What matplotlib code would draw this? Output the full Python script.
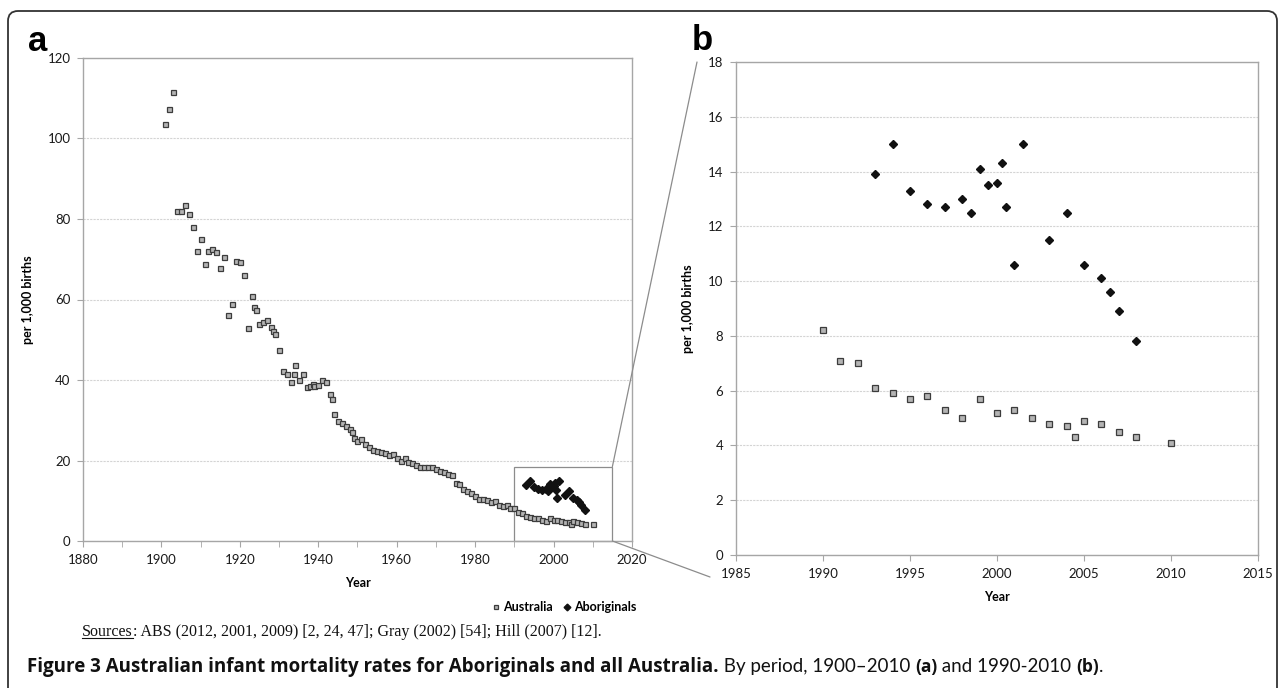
import numpy as np
import matplotlib.pyplot as plt
from matplotlib.patches import Rectangle, FancyBboxPatch, ConnectionPatch
from matplotlib.transforms import IdentityTransform

# Australia, all births (panel a, 1901-1989)
aus_years_early = [1901, 1902, 1903, 1904, 1905, 1906, 1907, 1908, 1909, 1910,
                   1911, 1912, 1913, 1914, 1915, 1916, 1917, 1918, 1919, 1920,
                   1921, 1922, 1923, 1923.5, 1924, 1925, 1926, 1927, 1928, 1928.5,
                   1929, 1930, 1931, 1932, 1933, 1933.7, 1934, 1935, 1936, 1937,
                   1938, 1938.6, 1939, 1940, 1941, 1942, 1943, 1943.5, 1944, 1945,
                   1946, 1947, 1948, 1948.6, 1949, 1950, 1951, 1952, 1953, 1954,
                   1955, 1956, 1957, 1958, 1959, 1960, 1961, 1962, 1963, 1964,
                   1965, 1966, 1967, 1968, 1969, 1970, 1971, 1972, 1973, 1974,
                   1975, 1976, 1977, 1978, 1979, 1980, 1981, 1982, 1983, 1984,
                   1985, 1986, 1987, 1988, 1989]
aus_vals_early = [103.5, 107.3, 111.5, 82.0, 82.0, 83.5, 81.3, 78.0, 72.0, 75.0,
                  68.8, 72.0, 72.5, 71.8, 67.8, 70.5, 56.2, 59.0, 69.5, 69.3,
                  66.0, 53.0, 60.8, 58.2, 57.3, 53.8, 54.3, 54.8, 53.2, 52.2,
                  51.4, 47.5, 42.3, 41.5, 39.5, 41.5, 43.8, 40.0, 41.4, 38.2,
                  38.6, 39.0, 38.6, 38.7, 40.0, 39.5, 36.5, 35.2, 31.5, 29.7,
                  29.2, 28.5, 27.9, 27.1, 25.5, 24.8, 25.4, 24.0, 23.4, 22.7,
                  22.3, 22.1, 21.8, 21.4, 21.7, 20.5, 19.9, 20.7, 19.7, 19.3,
                  18.9, 18.5, 18.5, 18.3, 18.3, 18.0, 17.5, 17.1, 16.7, 16.4,
                  14.4, 14.2, 12.9, 12.5, 11.9, 11.1, 10.4, 10.5, 10.2, 9.7,
                  10.0, 9.0, 8.8, 8.9, 8.2]

# Australia 1990-2010 (panel b)
aus_years = [1990, 1991, 1992, 1993, 1994, 1995, 1996, 1997, 1998, 1999, 2000,
             2001, 2002, 2003, 2004, 2004.5, 2005, 2006, 2007, 2008, 2010]
aus_vals = [8.2, 7.1, 7.0, 6.1, 5.9, 5.7, 5.8, 5.3, 5.0, 5.7, 5.2,
            5.3, 5.0, 4.8, 4.7, 4.3, 4.9, 4.8, 4.5, 4.3, 4.1]

# Aboriginals
abo_years = [1993, 1994, 1995, 1996, 1997, 1998, 1998.5, 1999, 1999.5, 2000,
             2000.3, 2000.5, 2001, 2001.5, 2003, 2004, 2005, 2006, 2006.5, 2007, 2008]
abo_vals = [13.9, 15.0, 13.3, 12.8, 12.7, 13.0, 12.5, 14.1, 13.5, 13.6,
            14.3, 12.7, 10.6, 15.0, 11.5, 12.5, 10.6, 10.1, 9.6, 8.9, 7.8]

W, H = 1285, 688
plt.rcParams['font.family'] = ['Lato', 'DejaVu Sans']

fig = plt.figure(figsize=(W / 100, H / 100), dpi=100)

def box(l, t, r, b):
    return [l / W, 1 - b / H, (r - l) / W, (b - t) / H]

ax_a = fig.add_axes(box(83, 58, 632, 541))
ax_b = fig.add_axes(box(736, 62, 1258, 555))

spine_c = '#a6a6a6'
sq = dict(ls='none', marker='s', mfc='#b4b4b4', mec='#3c3c3c', mew=0.9)
di = dict(ls='none', marker='D', color='#111111', mec='#111111')

all_years = aus_years_early + aus_years
all_vals = aus_vals_early + aus_vals

ax_a.plot(all_years, all_vals, ms=3.6, label='Australia', **sq)
ax_a.plot(abo_years, abo_vals, ms=3.8, label='Aboriginals', **di)
ax_b.plot(aus_years, aus_vals, ms=4.0, **sq)
ax_b.plot(abo_years, abo_vals, ms=4.3, **di)

ax_a.set_xlim(1880, 2020)
ax_a.set_ylim(0, 120)
ax_a.set_xticks(np.arange(1880, 2021, 20))
ax_a.set_xticks(np.arange(1890, 2020, 20), minor=True)
ax_a.set_yticks(np.arange(0, 121, 20))

ax_b.set_xlim(1985, 2015)
ax_b.set_ylim(0, 18)
ax_b.set_xticks(np.arange(1985, 2016, 5))
ax_b.set_yticks(np.arange(0, 19, 2))

for ax in (ax_a, ax_b):
    for s in ax.spines.values():
        s.set_color(spine_c)
        s.set_linewidth(1.0)
    ax.grid(axis='y', color='#d4d4d4', lw=0.8, ls=(0, (2, 1)))
    ax.set_axisbelow(True)
    ax.tick_params(which='both', direction='out', length=4, color=spine_c,
                   labelsize=9.5, labelcolor='#1a1a1a', pad=5)
    ax.set_xlabel('Year', fontsize=9, fontweight='bold', labelpad=8)
    ax.set_ylabel('per 1,000 births', fontsize=9, fontweight='bold', labelpad=10)

# zoom box and connectors
ax_a.add_patch(Rectangle((1990, 0), 25, 18.5, fill=False, ec='#8c8c8c', lw=0.9,
                         clip_on=False, zorder=1))
for xyA, xyB in [((2015, 18.5), (697, H - 62)), ((2015, 0), (710, H - 577))]:
    fig.add_artist(ConnectionPatch(xyA=xyA, coordsA=ax_a.transData, xyB=xyB,
                                   coordsB='figure pixels', color='#8c8c8c', lw=0.9))

fig.legend(loc='center left', bbox_to_anchor=(488 / W, 1 - 607 / H), ncol=2,
           frameon=False, prop={'size': 9, 'weight': 'bold'}, handletextpad=0.0,
           handlelength=1.2, columnspacing=0.5, markerscale=0.9,
           borderaxespad=0, borderpad=0)

fig.text(38 / W, 1 - 51 / H, 'a', fontsize=25, fontweight='bold',
         family='Liberation Sans', ha='center', va='baseline')
fig.text(702 / W, 1 - 50 / H, 'b', fontsize=25, fontweight='bold',
         family='Liberation Sans', ha='center', va='baseline')

# outer frame
fig.add_artist(FancyBboxPatch((8, -40), 1269, H - 11 + 40,
                              boxstyle='round,pad=0,rounding_size=10',
                              fill=False, ec='#333333', lw=1.3,
                              transform=IdentityTransform()))

renderer = fig.canvas.get_renderer()

def chain(x, y, pieces):
    for s, kw in pieces:
        t = fig.text(x / W, 1 - y / H, s, va='baseline', ha='left', **kw)
        x = t.get_window_extent(renderer).x1
    return x

serif = dict(family='Liberation Serif', fontsize=11.5, color='#111111')
t = fig.text(82 / W, 1 - 636 / H, 'Sources', va='baseline', ha='left', **serif)
bb = t.get_window_extent(renderer)
fig.add_artist(plt.Line2D([bb.x0, bb.x1], [H - 638, H - 638], color='#111111',
                          lw=0.8, transform=IdentityTransform()))
fig.text(bb.x1 / W, 1 - 636 / H,
         ': ABS (2012, 2001, 2009) [2, 24, 47]; Gray (2002) [54]; Hill (2007) [12].',
         va='baseline', ha='left', **serif)

cap = dict(fontsize=13.5, color='#111111')
capb = dict(fontsize=13.5, color='#111111', fontweight='bold', family='Open Sans')
chain(27, 672, [
    ('Figure 3 Australian infant mortality rates for Aboriginals and all Australia.', capb),
    (' By period, 1900\u20132010 ', cap),
    ('(a)', dict(capb, fontsize=12.5)),
    (' and 1990-2010 ', cap),
    ('(b)', dict(capb, fontsize=12.5)),
    ('.', cap),
])

fig.savefig('out.png', dpi=100)
